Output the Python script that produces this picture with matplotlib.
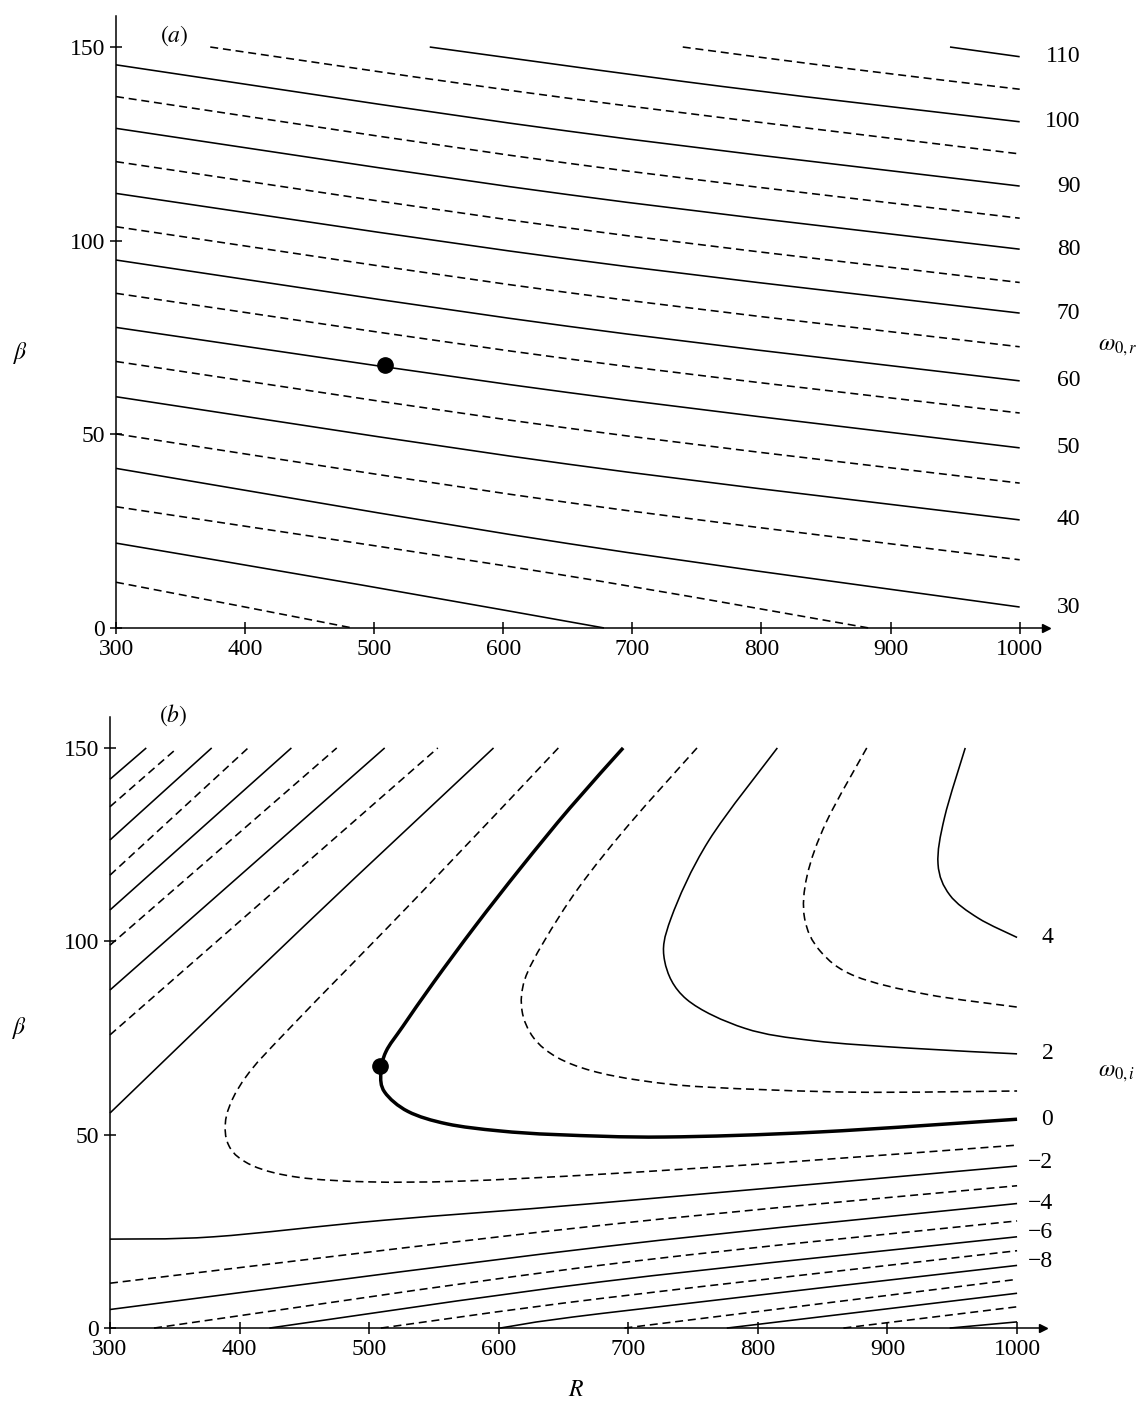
import matplotlib
matplotlib.use("Agg")
import matplotlib.pyplot as plt
from matplotlib.path import Path
from matplotlib.patches import PathPatch

plt.rcParams['font.family'] = ['Liberation Serif', 'DejaVu Serif']
plt.rcParams['mathtext.fontset'] = 'stix'

# ---------------- panel (a): omega_0,r contours, (R, beta) points
# solid = multiples of 10, dashed = halfway levels
a_solid = [
    ([300, 490, 678], [21.9, 11.1, 0.0]),
    ([300, 650, 1000], [41.2, 21.8, 5.4]),      # 30
    ([300, 650, 1000], [59.7, 42.3, 27.9]),     # 40
    ([300, 650, 1000], [77.6, 60.8, 46.5]),     # 50
    ([300, 650, 1000], [95.0, 77.9, 63.8]),     # 60
    ([300, 650, 1000], [112.2, 95.3, 81.3]),    # 70
    ([300, 650, 1000], [129.0, 111.9, 97.8]),   # 80
    ([300, 650, 1000], [145.4, 128.3, 114.1]),  # 90
    ([543, 770, 1000], [150.0, 139.8, 130.7]),  # 100
    ([946, 1000], [150.0, 147.5]),              # 110
]
a_dashed = [
    ([300, 400, 483], [11.8, 5.4, 0.0]),
    ([300, 636, 883], [31.3, 14.2, 0.0]),
    ([300, 650, 1000], [50.1, 32.4, 17.6]),
    ([300, 650, 1000], [68.8, 51.6, 37.4]),
    ([300, 650, 1000], [86.4, 69.5, 55.5]),
    ([300, 650, 1000], [103.6, 86.6, 72.6]),
    ([300, 650, 1000], [120.4, 103.3, 89.2]),
    ([300, 650, 1000], [137.2, 120.0, 105.8]),
    ([373, 650, 1000], [150.0, 136.8, 122.4]),
    ([739, 870, 1000], [150.0, 144.3, 139.1]),
]
a_labels = ["110", "100", "90", "80", "70", "60", "50", "40", "30"]
a_label_beta = [147.5, 130.7, 114.1, 97.8, 81.3, 63.8, 46.5, 27.9, 5.4]

# ---------------- panel (b): omega_0,i contours
b_zero = ([696, 655, 617, 582, 550, 526, 513, 509, 512, 530, 560, 600, 646, 728, 847, 1000],
          [150, 134.5, 119, 104, 89.5, 78, 71.5, 66, 61, 56, 52.8, 51.0, 50.0, 49.4, 50.7, 54.0])
b_solid = [
    ([300, 328], [141.9, 150]),
    ([300, 378.5], [126.2, 150]),
    ([300, 440], [108.1, 150]),
    ([300, 512], [87.4, 150]),
    ([300, 450, 596], [55.6, 104, 150]),
    ([815, 762, 733, 728, 745, 790, 843, 916, 1000], [150, 126, 106, 95, 85, 77.5, 74.3, 72.4, 70.9]),
    ([960, 944, 939, 948, 970, 1000], [150, 132, 120, 112, 106, 101]),
    ([300, 380, 512, 680, 1000], [23.0, 23.6, 27.9, 32.4, 41.9]),
    ([300, 680, 1000], [4.8, 21.0, 32.2]),
    ([423, 680, 1000], [0.0, 12.0, 23.6]),
    ([601, 680, 1000], [0.0, 3.8, 16.2]),
    ([776, 1000], [0.0, 9.0]),
    ([948, 1000], [0.0, 1.6]),
]
b_dashed = [
    ([300, 352], [134.8, 150]),
    ([300, 406.6], [117.1, 150]),
    ([300, 475], [99.0, 150]),
    ([300, 553], [75.8, 150]),
    ([646, 540, 440, 405, 390, 392, 410, 445, 500, 571, 680, 814, 1000],
     [150, 112.5, 78, 65, 55, 47, 42, 39, 37.8, 38.0, 39.8, 42.7, 47.3]),
    ([753, 700, 662, 635, 620, 618, 627, 645, 672, 710, 761, 873, 1000],
     [150, 130, 114, 100, 90, 82, 75, 70, 66.5, 64, 62.3, 61.0, 61.3]),
    ([884, 853, 838, 836, 848, 875, 930, 1000], [150, 131, 117, 106, 97.5, 91, 86.3, 83.0]),
    ([300, 680, 1000], [11.6, 26.6, 36.8]),
    ([334, 680, 1000], [0.0, 16.3, 27.7]),
    ([509, 680, 1000], [0.0, 7.7, 20.0]),
    ([697, 1000], [0.0, 12.6]),
    ([866, 1000], [0.0, 5.5]),
]
b_labels = ["4", "2", "0", "\u22122", "\u22124", "\u22126", "\u22128"]
b_label_beta = [101.1, 70.9, 54.0, 42.7, 32.3, 24.6, 17.1]

critical_point = (508.7, 67.8)

FS = 17
DASH = (0, (5, 3))


def smooth(xs, ys):
    # Catmull-Rom through the read points, handed to matplotlib as cubic Bezier segments
    pts = list(zip(xs, ys))
    verts = [pts[0]]
    codes = [Path.MOVETO]
    n = len(pts)
    for i in range(n - 1):
        p0 = pts[i - 1] if i > 0 else pts[i]
        p1, p2 = pts[i], pts[i + 1]
        p3 = pts[i + 2] if i + 2 < n else pts[i + 1]
        c1 = (p1[0] + (p2[0] - p0[0]) / 6, p1[1] + (p2[1] - p0[1]) / 6)
        c2 = (p2[0] - (p3[0] - p1[0]) / 6, p2[1] - (p3[1] - p1[1]) / 6)
        verts += [c1, c2, p2]
        codes += [Path.CURVE4] * 3
    return Path(verts, codes)


def curve(ax, xs, ys, lw=1.15, ls="-"):
    ax.add_patch(PathPatch(smooth(xs, ys), fill=False, edgecolor="k", lw=lw,
                           linestyle=ls, capstyle="butt", clip_on=False))


def setup_axes(ax):
    ax.set_xlim(300, 1020)
    ax.set_ylim(0, 158)
    for s in ("top", "right"):
        ax.spines[s].set_visible(False)
    for s in ("left", "bottom"):
        ax.spines[s].set_linewidth(1.1)
    ax.set_xticks(range(300, 1001, 100))
    ax.set_yticks([0, 50, 100, 150])
    ax.tick_params(direction="inout", length=8, width=1.1, labelsize=FS, pad=4)
    ax.plot(1, 0, ">k", ms=6, transform=ax.get_yaxis_transform(), clip_on=False)
    ax.plot(0, 1, "^k", ms=6, transform=ax.get_xaxis_transform(), clip_on=False)


def draw_lines(ax, solid, dashed):
    for xs, ys in solid:
        curve(ax, xs, ys)
    for xs, ys in dashed:
        curve(ax, xs, ys, ls=DASH)


fig = plt.figure(figsize=(11.42, 14.07), dpi=100)
ax1 = fig.add_axes([0.1016, 0.5537, 0.8139, 0.4349])
ax2 = fig.add_axes([0.0963, 0.0561, 0.8170, 0.4343])

# (a)
setup_axes(ax1)
draw_lines(ax1, a_solid, a_dashed)
ax1.plot(*critical_point, "o", color="k", ms=11, zorder=5)
for lab, b in zip(a_labels, a_label_beta):
    ax1.text(1047, b, lab, ha="right", va="center", fontsize=FS, clip_on=False)
ax1.text(1076, 72.5, r"$\omega_{0,r}$", ha="center", va="center", fontsize=FS)
ax1.text(226, 71, r"$\beta$", ha="center", va="center", fontsize=FS)
ax1.text(345, 153, r"$(a)$", ha="center", va="center", fontsize=FS)

# (b)
setup_axes(ax2)
draw_lines(ax2, b_solid, b_dashed)
curve(ax2, *b_zero, lw=2.5)
ax2.plot(*critical_point, "o", color="k", ms=11, zorder=5)
for lab, b in zip(b_labels, b_label_beta):
    ax2.text(1028, b, lab, ha="right", va="center", fontsize=FS, clip_on=False)
ax2.text(1077, 65.9, r"$\omega_{0,i}$", ha="center", va="center", fontsize=FS)
ax2.text(230, 77.6, r"$\beta$", ha="center", va="center", fontsize=FS)
ax2.text(349, 158.5, r"$(b)$", ha="center", va="center", fontsize=FS)
ax2.set_xlabel(r"$R$", fontsize=FS, labelpad=14)

fig.savefig("out.png", dpi=100, facecolor="white")
